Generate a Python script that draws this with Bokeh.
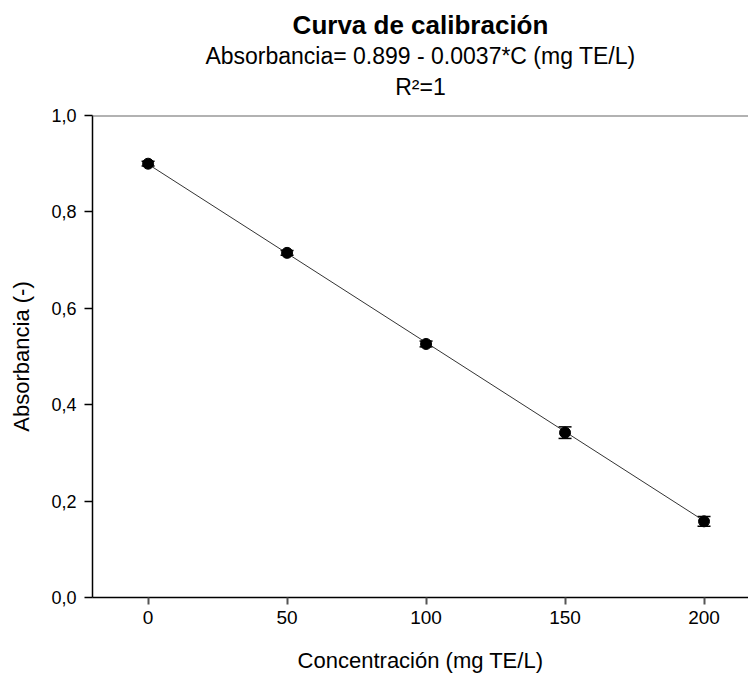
from bokeh.plotting import figure
from bokeh.models import (ColumnDataSource, Whisker, TeeHead, Span, Title,
                          CustomJSTickFormatter, FixedTicker, Range1d)
from bokeh.embed import file_html
from bokeh.resources import INLINE

# ---- data ----
conc = [0, 50, 100, 150, 200]
absorb = [0.900, 0.715, 0.526, 0.342, 0.158]
err = [0.005, 0.005, 0.006, 0.012, 0.010]
fit_x = [0, 200]
fit_y = [0.899, 0.159]
x_ticks = [0, 50, 100, 150, 200]
y_ticks = [0.0, 0.2, 0.4, 0.6, 0.8, 1.0]

title_text = "Curva de calibración"
subtitle_text = "Absorbancia= 0.899 - 0.0037*C (mg TE/L)"
r2_text = "R²=1"
x_label = "Concentración (mg TE/L)"
y_label = "Absorbancia (-)"

FONT = "Liberation Sans"

p = figure(width=748, height=675, output_backend="svg", toolbar_location=None,
           x_range=Range1d(-20, 216), y_range=Range1d(0, 1.0),
           min_border_left=92, min_border_right=0, min_border_top=115,
           min_border_bottom=78, title=None)
p.outline_line_color = None
p.xgrid.visible = False
p.ygrid.visible = False
p.background_fill_color = "white"
p.border_fill_color = "white"

# titles (first added = closest to plot); first one is a blank spacer
for txt, size, style, stand in [(" ", "10px", "normal", 0),
                                (r2_text, "23px", "normal", 5),
                                (subtitle_text, "23px", "normal", 2),
                                (title_text, "26px", "bold", 0)]:
    t = Title(text=txt, align="center", text_font=FONT, text_font_size=size,
              text_font_style=style, text_color="black", standoff=stand)
    p.add_layout(t, "above")

src = ColumnDataSource(dict(x=conc, y=absorb,
                            lo=[a - e for a, e in zip(absorb, err)],
                            hi=[a + e for a, e in zip(absorb, err)]))

p.line(fit_x, fit_y, line_color="#333333", line_width=1)
w = Whisker(source=src, base="x", lower="lo", upper="hi", line_color="black",
            line_width=1.5,
            lower_head=TeeHead(size=13, line_color="black", line_width=1.5),
            upper_head=TeeHead(size=13, line_color="black", line_width=1.5))
p.add_layout(w)
p.scatter("x", "y", source=src, size=11, color="black")

# top frame line
p.add_layout(Span(location=1.0, dimension="width", line_color="#666666", line_width=2))

# axes
p.xaxis.ticker = FixedTicker(ticks=x_ticks)
p.yaxis.ticker = FixedTicker(ticks=y_ticks)
p.yaxis.formatter = CustomJSTickFormatter(code="return tick.toFixed(1).replace('.', ',');")
for ax in (p.xaxis[0], p.yaxis[0]):
    ax.axis_line_color = "black"
    ax.axis_line_width = 1.5
    ax.major_tick_in = 0
    ax.minor_tick_line_color = None
    ax.major_label_text_font = FONT
    ax.major_label_text_font_size = "19px"
    ax.major_label_text_color = "black"
    ax.axis_label_text_font = FONT
    ax.axis_label_text_font_size = "22px"
    ax.axis_label_text_font_style = "normal"
    ax.axis_label_text_color = "black"
p.yaxis.major_label_text_font_size = "18px"
p.xaxis.major_tick_out = 7
p.xaxis.major_tick_line_color = "#555555"
p.xaxis.major_tick_line_width = 2
p.yaxis.major_tick_out = 8
p.yaxis.major_tick_line_color = "black"
p.yaxis.major_tick_line_width = 1.5
p.xaxis.major_label_standoff = 6
p.yaxis.major_label_standoff = 8
p.xaxis.axis_label = x_label
p.yaxis.axis_label = y_label
p.xaxis.axis_label_standoff = 21
p.yaxis.axis_label_standoff = 14

open("out.html", "w").write(file_html(p, INLINE))
